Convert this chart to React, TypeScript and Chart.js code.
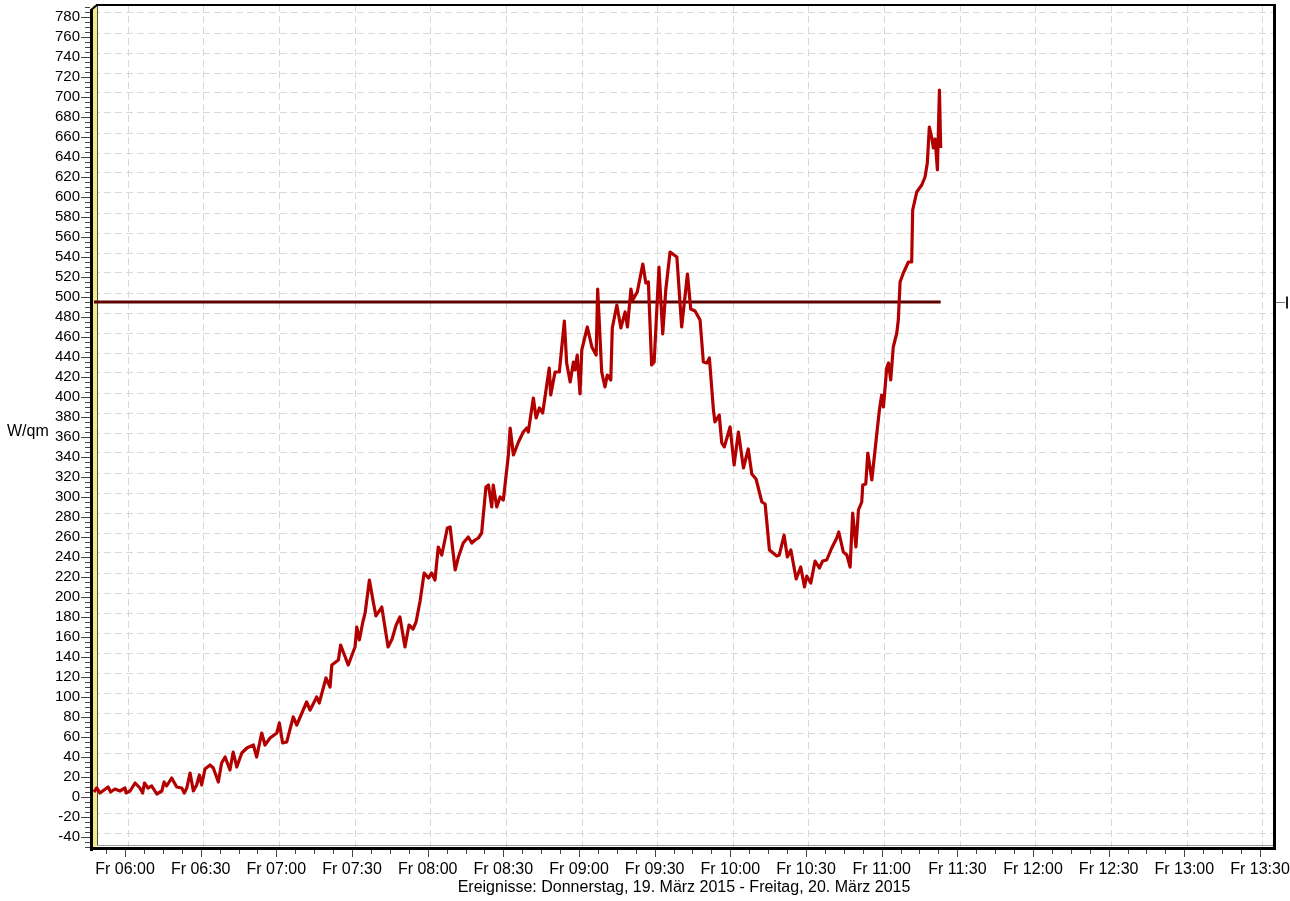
import React, { useEffect, useRef } from "react";
import { Chart, registerables } from "chart.js";

Chart.register(...registerables);

// Sample times, minutes after midnight (Friday 20 March 2015)
const sampleMinutes = [
  347.7, 348.8, 350.1, 353.3, 354.3, 356.0, 358.0, 360.0, 360.4, 362.0,
  364.0, 365.9, 367.0, 367.7, 369.1, 370.6, 372.6, 374.6, 375.5, 376.5,
  378.5, 380.5, 382.5, 383.5, 384.5, 385.8, 387.1, 388.4, 389.5, 390.4,
  391.7, 393.7, 395.0, 397.0, 398.3, 399.7, 401.6, 402.9, 404.3, 406.3,
  408.3, 410.9, 412.2, 414.2, 415.5, 417.5, 420.2, 421.2, 422.5, 424.1,
  426.7, 428.1, 432.0, 433.4, 436.0, 437.0, 439.7, 441.3, 442.0, 444.6,
  445.5, 448.5, 451.2, 451.9, 452.9, 454.3, 455.2, 456.9, 458.5, 459.5,
  461.8, 464.3, 465.9, 467.5, 469.0, 471.0, 472.6, 474.2, 475.4, 477.0,
  478.6, 480.3, 481.6, 482.9, 484.2, 485.6, 487.8, 488.9, 490.9, 492.2,
  494.1, 496.1, 497.5, 498.8, 500.1, 501.4, 503.1, 504.1, 505.4, 506.0,
  507.4, 508.7, 510.0, 512.0, 512.7, 514.0, 516.0, 517.9, 519.3, 519.9,
  521.9, 523.0, 524.3, 525.6, 528.2, 528.8, 530.5, 532.2, 534.2, 535.1,
  536.5, 537.8, 538.4, 539.3, 540.4, 541.1, 543.3, 545.1, 546.8, 547.4,
  549.0, 550.3, 551.2, 552.6, 553.2, 555.0, 556.6, 558.3, 559.2, 560.6,
  561.3, 563.1, 565.3, 566.5, 567.5, 568.8, 569.8, 571.7, 573.2, 574.4,
  576.1, 578.8, 580.7, 583.0, 584.3, 586.0, 588.0, 589.3, 590.7, 591.7,
  593.3, 593.9, 595.6, 596.6, 597.6, 599.9, 601.5, 603.2, 605.2, 607.1,
  608.5, 610.2, 612.5, 613.8, 615.5, 618.4, 619.4, 621.3, 622.6, 624.0,
  626.1, 627.9, 629.4, 630.3, 631.9, 633.6, 635.3, 636.6, 638.2, 640.2,
  642.2, 643.0, 644.8, 646.2, 647.5, 648.5, 649.8, 650.8, 652.1, 652.5,
  653.7, 654.5, 656.1, 658.1, 659.1, 660.0, 660.7, 662.0, 662.7, 663.6,
  664.6, 666.0, 666.6, 667.3, 668.6, 670.6, 671.9, 672.3, 673.9, 675.9,
  677.2, 678.1, 678.9, 679.9, 680.5, 681.2, 682.1, 682.9, 683.4,
];

// Irradiance in W/qm
const irradiance = [
  5, 9, 4, 10, 5, 8, 6, 9, 4, 6,
  14, 9, 4, 14, 9, 11, 3, 6, 15, 11,
  19, 10, 9, 4, 9, 24, 6, 12, 22, 12,
  28, 32, 29, 15, 34, 40, 27, 45, 30, 44,
  49, 52, 40, 64, 52, 59, 64, 74, 54, 55,
  80, 72, 95, 87, 100, 94, 119, 110, 132, 137,
  152, 132, 150, 170, 157, 175, 184, 217, 194, 181,
  190, 150, 158, 172, 180, 150, 172, 168, 175, 196,
  224, 219, 224, 217, 250, 242, 269, 270, 227, 240,
  254, 260, 254, 257, 259, 264, 310, 312, 290, 312,
  290, 300, 297, 342, 369, 342, 355, 365, 369, 365,
  399, 379, 389, 384, 429, 402, 425, 425, 476, 434,
  415, 435, 427, 442, 403, 447, 470, 450, 442, 508,
  425, 410, 422, 417, 469, 492, 469, 485, 470, 508,
  497, 505, 533, 514, 515, 432, 435, 530, 463, 507,
  545, 540, 470, 523, 488, 486, 477, 435, 434, 439,
  387, 375, 382, 354, 350, 370, 332, 365, 329, 348,
  323, 318, 295, 293, 247, 241, 242, 262, 240, 247,
  218, 230, 210, 221, 214, 236, 229, 236, 237, 249,
  259, 265, 245, 242, 230, 284, 250, 287, 295, 312,
  313, 344, 317, 364, 387, 402, 390, 429, 434, 417,
  450, 464, 477, 515, 524, 535, 535, 587, 605, 612,
  620, 634, 670, 659, 649, 658, 627, 707, 649,
];

const limitValue = 495;
const dayPrefix = "Fr";
const yUnitLabel = "W/qm";
const xAxisTitle = "Ereignisse: Donnerstag, 19. März 2015 - Freitag, 20. März 2015";

// axis ranges (minutes after midnight / W/qm)
const xMin = 347.31;
const xMax = 815.95;
const yMin = -52;
const yMax = 792;
const xMajorStep = 30;
const xMinorStep = 7.5;
const yMajorStep = 20;
const yMinorStep = 5;
// back-wall (3D depth) shift of grid lines, in axis units
const gridShiftX = 1.19;
const gridShiftY = 4;

const FONT = '"Liberation Sans", Arial, Helvetica, sans-serif';

const fmtTime = (m: number) => {
  const h = Math.floor(m / 60 + 1e-6);
  const mm = Math.round(m - h * 60);
  return `${dayPrefix} ${String(h).padStart(2, "0")}:${String(mm).padStart(2, "0")}`;
};

const decorPlugin = {
  id: "decor",
  beforeDatasetsDraw(chart: any) {
    const ctx = chart.ctx as CanvasRenderingContext2D;
    const a = chart.chartArea;
    const xs = chart.scales.x;
    const ys = chart.scales.y;
    ctx.save();

    // yellow side strip of the 3D wall
    ctx.fillStyle = "#f3ea86";
    ctx.fillRect(a.left, a.top, 4, a.bottom - a.top);
    ctx.strokeStyle = "#4a4a4a";
    ctx.lineWidth = 1;
    ctx.beginPath();
    ctx.moveTo(a.left + 4.5, a.top);
    ctx.lineTo(a.left + 4.5, a.bottom - 3);
    ctx.stroke();

    // light inner line above bottom axis
    ctx.strokeStyle = "#9a9a9a";
    ctx.beginPath();
    ctx.moveTo(a.left + 4, a.bottom - 3.5);
    ctx.lineTo(a.right - 2, a.bottom - 3.5);
    ctx.stroke();

    ctx.fillStyle = "#000";
    // left axis
    ctx.fillRect(a.left - 3, a.top + 4, 3, a.bottom - a.top - 2);
    // top frame
    ctx.fillRect(a.left + 3, a.top - 1, a.right - a.left - 2, 2);
    // right frame
    ctx.fillRect(a.right - 2, a.top - 1, 3, a.bottom - a.top);
    // bottom axis
    ctx.fillRect(a.left - 3, a.bottom - 2, a.right - a.left + 4, 3);
    // top-left corner diagonal
    ctx.strokeStyle = "#000";
    ctx.lineWidth = 2;
    ctx.beginPath();
    ctx.moveTo(a.left - 2, a.top + 5);
    ctx.lineTo(a.left + 4, a.top);
    ctx.stroke();

    // y tick marks
    ctx.strokeStyle = "#444";
    ctx.lineWidth = 1;
    ctx.beginPath();
    for (let v = Math.ceil(yMin / yMinorStep) * yMinorStep; v <= yMax; v += yMinorStep) {
      const py = Math.round(ys.getPixelForValue(v)) + 0.5;
      const major = Math.abs(v % yMajorStep) < 1e-6;
      ctx.moveTo(a.left - (major ? 12 : 8), py);
      ctx.lineTo(a.left - 3, py);
    }
    // x tick marks
    for (let t = Math.ceil(xMin / xMinorStep) * xMinorStep; t <= xMax; t += xMinorStep) {
      const px = Math.round(xs.getPixelForValue(t)) + 0.5;
      const major = Math.abs(t % xMajorStep) < 1e-6;
      ctx.moveTo(px, a.bottom + 1);
      ctx.lineTo(px, a.bottom + (major ? 8 : 5));
    }
    ctx.stroke();

    // right-side marker for the limit line
    const ly = Math.round(ys.getPixelForValue(limitValue)) + 0.5;
    ctx.strokeStyle = "#777";
    ctx.beginPath();
    ctx.moveTo(a.right + 1, ly);
    ctx.lineTo(a.right + 10, ly);
    ctx.stroke();
    ctx.fillStyle = "#222";
    ctx.fillRect(a.right + 11, ly - 6, 2, 12);

    // unit label
    ctx.fillStyle = "#000";
    ctx.font = `16px ${FONT}`;
    ctx.textAlign = "left";
    ctx.textBaseline = "middle";
    ctx.fillText(yUnitLabel, 7, (a.top + a.bottom) / 2 + 5);

    ctx.restore();
  },
};

export default function App() {
  const ref = useRef<HTMLCanvasElement | null>(null);

  useEffect(() => {
    if (!ref.current) return;
    const chart = new Chart(ref.current, {
      type: "line",
      data: {
        datasets: [
          {
            label: yUnitLabel,
            data: sampleMinutes.map((t, i) => ({ x: t, y: irradiance[i] })),
            borderColor: "#b20000",
            borderWidth: 3.2,
            pointRadius: 0,
            tension: 0,
            borderJoinStyle: "round",
            xAxisID: "x",
            yAxisID: "y",
            order: 0,
          },
          {
            label: "Grenze",
            data: [
              { x: sampleMinutes[0], y: limitValue },
              { x: sampleMinutes[sampleMinutes.length - 1], y: limitValue },
            ],
            borderColor: "#5c0000",
            borderWidth: 3,
            pointRadius: 0,
            tension: 0,
            xAxisID: "x",
            yAxisID: "y",
            order: 1,
          },
        ],
      },
      options: {
        animation: false,
        responsive: false,
        events: [],
        layout: { padding: { top: 5, right: 15, left: 0, bottom: 0 } },
        plugins: { legend: { display: false }, tooltip: { enabled: false } },
        scales: {
          xGrid: {
            type: "linear",
            position: "bottom",
            min: xMin - gridShiftX,
            max: xMax - gridShiftX,
            grid: { display: true, color: "#d8d8d8", lineWidth: 1, drawTicks: false },
            border: { display: false, dash: [7, 4] },
            ticks: { display: false, stepSize: xMajorStep, includeBounds: false },
            afterFit: (s: any) => {
              s.height = 0;
              s.paddingLeft = 0;
              s.paddingRight = 0;
            },
          },
          x: {
            type: "linear",
            position: "bottom",
            min: xMin,
            max: xMax,
            grid: { display: false, drawTicks: false },
            border: { display: false },
            ticks: {
              stepSize: xMajorStep,
              includeBounds: false,
              autoSkip: false,
              maxRotation: 0,
              padding: 11,
              color: "#000",
              font: { family: FONT, size: 16 },
              callback: (v: any) => fmtTime(Number(v)),
            },
            title: {
              display: true,
              text: xAxisTitle,
              color: "#000",
              font: { family: FONT, size: 16 },
              padding: { top: 0, bottom: 4 },
            },
            afterFit: (s: any) => {
              s.height = 52;
              s.paddingLeft = 0;
              s.paddingRight = 0;
            },
          },
          yGrid: {
            type: "linear",
            position: "left",
            min: yMin - gridShiftY,
            max: yMax - gridShiftY,
            grid: { display: true, color: "#d8d8d8", lineWidth: 1, drawTicks: false },
            border: { display: false, dash: [7, 4] },
            ticks: { display: false, stepSize: yMajorStep, includeBounds: false },
            afterFit: (s: any) => {
              s.width = 0;
              s.paddingTop = 0;
              s.paddingBottom = 0;
            },
          },
          y: {
            type: "linear",
            position: "left",
            min: yMin,
            max: yMax,
            grid: { display: false, drawTicks: false },
            border: { display: false },
            ticks: {
              stepSize: yMajorStep,
              includeBounds: false,
              autoSkip: false,
              padding: 13,
              color: "#000",
              font: { family: FONT, size: 15 },
            },
            afterFit: (s: any) => {
              s.width = 93;
              s.paddingTop = 0;
              s.paddingBottom = 0;
            },
          },
        },
      } as any,
      plugins: [decorPlugin],
    });
    return () => chart.destroy();
  }, []);

  return (
    <div style={{ position: "fixed", left: 0, top: 0, width: 1290, height: 901, background: "#fff" }}>
      <canvas ref={ref} width={1290} height={901} style={{ display: "block" }} />
    </div>
  );
}
